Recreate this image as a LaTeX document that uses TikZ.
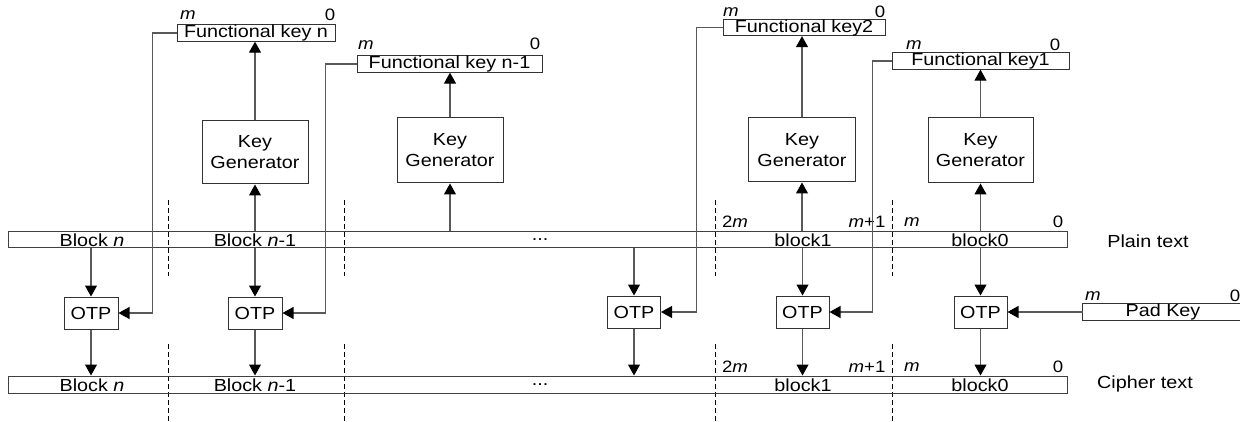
\documentclass[tikz,border=0pt]{standalone}
\usepackage{fontspec}
\setmainfont{Liberation Sans}[FakeStretch=1.13]
\usetikzlibrary{arrows.meta}

\tikzset{
  box/.style={draw=black!80, line width=1pt, inner sep=0pt, fill=white},
  bar/.style={draw=black!75, line width=1pt, inner sep=0pt, minimum width=1059pt},
  txt/.style={font=\fontsize{17.5}{21}\selectfont, inner sep=0pt},
  lbl/.style={font=\fontsize{16.5}{18}\selectfont, inner sep=0pt},
  conn/.style={draw=black!65, line width=1.1pt,
    -{Triangle[length=11pt,width=12pt,color=black]}},
  divider/.style={draw=black, line width=0.8pt, dash pattern=on 5pt off 3pt},
}

\begin{document}
\begin{tikzpicture}[x=1pt, y=-1pt]
\useasboundingbox (0,0) rectangle (1240,422);

% column dividers
\foreach \xx in {168,344,715,892} {
  \draw[divider] (\xx,200) -- (\xx,276);
  \draw[divider] (\xx,344) -- (\xx,422);
}

% plain text and cipher text registers
\node[bar, minimum height=16pt] (pbar) at (537.5,240) {};
\node[bar, minimum height=17pt] (cbar) at (537.5,384.5) {};

\node[txt] (pn)  at (92,240)  {Block \textit{n}};
\node[txt] (pn1) at (255,240) {Block \textit{n}-1};
\node[txt] (pd)  at (540,240) {...};
\node[txt] (pb1) at (803,240) {block1};
\node[txt] (pb0) at (980,240) {block0};
\node[txt] (cn)  at (92,385)  {Block \textit{n}};
\node[txt] (cn1) at (255,385) {Block \textit{n}-1};
\node[txt] (cd)  at (540,385) {...};
\node[txt] (cb1) at (803,385) {block1};
\node[txt] (cb0) at (980,385) {block0};

\node[txt] (plain)  at (1148,241) {Plain text};
\node[txt] (cipher) at (1145,384) {Cipher text};

% bit positions along the registers
\foreach \yy/\nm in {222/p,367/c} {
  \node[lbl] (\nm2m) at (735,\yy)  {2\textit{m}};
  \node[lbl] (\nm m1) at (867,\yy) {\textit{m}+1};
  \node[lbl] (\nm m)  at (912,\yy) {\textit{m}};
  \node[lbl] (\nm z)  at (1058,\yy) {0};
}

% key generators
\node[box, minimum width=106pt, minimum height=63pt, txt, align=center] (kg1) at (255,152.5) {Key\\Generator};
\node[box, minimum width=106pt, minimum height=65pt, txt, align=center] (kg2) at (450,150.5) {Key\\Generator};
\node[box, minimum width=107pt, minimum height=64pt, txt, align=center] (kg3) at (802,150) {Key\\Generator};
\node[box, minimum width=105pt, minimum height=65pt, txt, align=center] (kg4) at (980.5,150.5) {Key\\Generator};

% functional keys
\node[box, minimum width=158pt, minimum height=16pt, txt] (fkn)  at (256,33)  {Functional key n};
\node[box, minimum width=185pt, minimum height=16pt, txt] (fkn1) at (449.5,64) {Functional key n-1};
\node[box, minimum width=162pt, minimum height=15pt, txt] (fk2)  at (804,27.5) {Functional key2};
\node[box, minimum width=177pt, minimum height=16pt, txt] (fk1)  at (980.5,61) {Functional key1};

\node[lbl] (fknm)  at (188,15)  {\textit{m}};
\node[lbl] (fknz)  at (330,15)  {0};
\node[lbl] (fkn1m) at (366,45)  {\textit{m}};
\node[lbl] (fkn1z) at (535,44)  {0};
\node[lbl] (fk2m)  at (731,12)  {\textit{m}};
\node[lbl] (fk2z)  at (880,12)  {0};
\node[lbl] (fk1m)  at (914,45)  {\textit{m}};
\node[lbl] (fk1z)  at (1055,45) {0};

% one-time-pad units
\node[box, minimum width=54pt, minimum height=32pt, txt] (otpN)  at (91,313)    {OTP};
\node[box, minimum width=54pt, minimum height=32pt, txt] (otpN1) at (255,313)   {OTP};
\node[box, minimum width=53pt, minimum height=32pt, txt] (otpA)  at (634,312)   {OTP};
\node[box, minimum width=53pt, minimum height=32pt, txt] (otpB)  at (802.5,312) {OTP};
\node[box, minimum width=53pt, minimum height=32pt, txt] (otpC)  at (980.5,312) {OTP};

% pad key (register runs off the right edge)
\node[minimum width=157pt, minimum height=16pt, inner sep=0pt] (pad) at (1161.5,312) {};
\draw[draw=black!80, line width=1pt] (pad.north east) -- (pad.north west) -- (pad.south west) -- (pad.south east);
\node[txt] (padt) at (1163,312) {Pad Key};
\node[lbl] (padm) at (1093,296) {\textit{m}};
\node[lbl] (padz) at (1235,296) {0};

% plain text -> key generators -> functional keys
\foreach \k/\f in {kg1/fkn, kg2/fkn1, kg3/fk2, kg4/fk1} {
  \draw[conn] (pbar.north -| \k.south) -- (\k.south);
  \draw[conn] (\k.north) -- (\k.north |- \f.south);
}

% plain text -> OTP -> cipher text
\foreach \o in {otpN, otpN1, otpA, otpB, otpC} {
  \draw[conn] (pbar.south -| \o.north) -- (\o.north);
  \draw[conn] (\o.south) -- (cbar.north -| \o.south);
}

% functional keys fed back into the OTP units
\draw[conn] (fkn.west)  -- ++(-24,0) |- (otpN.east);
\draw[conn] (fkn1.west) -- ++(-31,0) |- (otpN1.east);
\draw[conn] (fk2.west)  -- ++(-26,0) |- (otpA.east);
\draw[conn] (fk1.west)  -- ++(-19,0) |- (otpB.east);
\draw[conn] (pad.west) -- (otpC.east);
\end{tikzpicture}
\end{document}
